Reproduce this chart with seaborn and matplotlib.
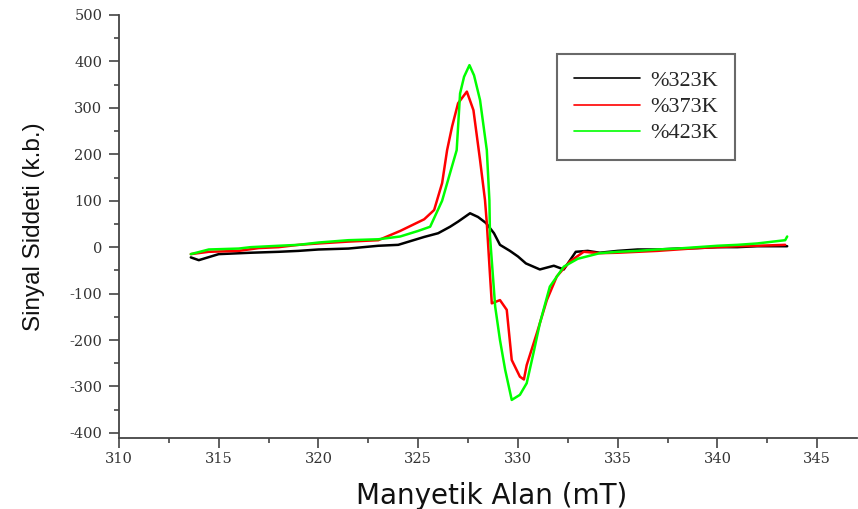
import matplotlib
matplotlib.use("Agg")
import matplotlib.pyplot as plt
import matplotlib.ticker as mticker
import seaborn as sns
import pandas as pd

# ---- data ----
labels = ["%323K", "%373K", "%423K"]
colors = ["#000000", "#ff0000", "#00ff00"]

x_323 = [313.6, 314.0, 315.0, 316.6, 318.0, 319.0, 320.0, 321.5, 323.0, 324.0, 325.3,
         326.0, 326.6, 327.0, 327.6, 328.0, 328.4, 328.8, 329.1, 329.6, 330.0, 330.4,
         331.1, 331.8, 332.3, 332.9, 333.5, 334.1, 335.0, 336.0, 337.0, 338.0, 339.0,
         340.0, 341.0, 342.0, 343.5]
y_323 = [-22, -28, -15, -12, -10, -8, -5, -3, 3, 5, 22,
         30, 44, 55, 73, 65, 52, 30, 5, -8, -20, -35,
         -48, -40, -48, -10, -8, -12, -8, -5, -5, -3, -2,
         0, 0, 2, 2]

x_373 = [313.6, 314.5, 316.0, 317.0, 318.0, 319.0, 320.0, 321.5, 323.0, 324.1, 325.3,
         325.8, 326.2, 326.45, 326.7, 327.0, 327.44, 327.77, 328.1, 328.35, 328.44, 328.6,
         328.69, 329.1, 329.44, 329.69, 330.1, 330.3, 330.44, 330.95, 331.45, 331.95,
         332.6, 333.3, 334.1, 335.0, 336.0, 337.0, 338.0, 339.0, 340.0, 341.0, 342.0, 343.4]
y_373 = [-15, -10, -8, -2, 0, 5, 8, 12, 15, 35, 60,
         80, 138, 209, 260, 310, 335, 295, 188, 101, 52, -60,
         -121, -114, -135, -243, -279, -285, -254, -185, -114, -63,
         -31, -10, -13, -12, -10, -8, -5, -2, 0, 2, 3, 5]

x_423 = [313.6, 314.5, 316.0, 316.6, 318.0, 319.0, 320.0, 321.5, 323.0, 324.1, 325.0,
         325.6, 326.2, 326.6, 326.93, 327.1, 327.3, 327.57, 327.8, 328.1, 328.44, 328.57,
         328.6, 328.86, 329.1, 329.36, 329.69, 330.1, 330.44, 330.78, 331.1, 331.6,
         332.3, 333.0, 334.1, 335.0, 336.0, 337.0, 338.0, 339.0, 340.0, 341.0, 342.0,
         343.4, 343.5]
y_423 = [-15, -5, -3, 0, 3, 5, 10, 15, 17, 23, 35,
         44, 100, 160, 209, 331, 367, 392, 370, 317, 209, 101,
         23, -128, -200, -264, -329, -318, -293, -228, -164, -85,
         -42, -25, -13, -10, -8, -5, -3, 0, 3, 5, 8,
         15, 23]

xs = [x_323, x_373, x_423]
ys = [y_323, y_373, y_423]

df = pd.concat(
    [pd.DataFrame({"x": x, "y": y, "series": lab}) for x, y, lab in zip(xs, ys, labels)],
    ignore_index=True,
)

# ---- figure ----
sns.set_style("white")
plt.rcParams["axes.unicode_minus"] = False
fig = plt.figure(figsize=(8.58, 5.09), dpi=100)
ax = fig.add_axes([119 / 858, 1 - 438 / 509, (857 - 119) / 858, (438 - 15) / 509])

sns.lineplot(data=df, x="x", y="y", hue="series", palette=dict(zip(labels, colors)),
             sort=False, estimator=None, linewidth=1.8, ax=ax)

ax.set_xlim(310, 347.0)
ax.set_ylim(-411, 500)
ax.xaxis.set_major_locator(mticker.MultipleLocator(5))
ax.xaxis.set_minor_locator(mticker.MultipleLocator(2.5))
ax.yaxis.set_major_locator(mticker.MultipleLocator(100))
ax.yaxis.set_minor_locator(mticker.MultipleLocator(50))

for s in ["top", "right"]:
    ax.spines[s].set_visible(False)
for s in ["left", "bottom"]:
    ax.spines[s].set_color("#444444")
    ax.spines[s].set_linewidth(1.3)

ax.tick_params(axis="both", which="both", bottom=True, left=True, top=False, right=False)
ax.tick_params(axis="both", which="major", direction="out", length=7, width=1.2,
               color="#444444", labelcolor="#333333", labelsize=10.5, pad=3)
ax.tick_params(axis="both", which="minor", direction="out", length=3.5, width=1.2,
               color="#444444")
ax.tick_params(axis="y", which="major", pad=5)
for lab in ax.get_xticklabels() + ax.get_yticklabels():
    lab.set_family("DejaVu Serif")

ax.set_xlabel("Manyetik Alan (mT)", fontsize=20, family="DejaVu Sans", color="#111111")
ax.set_ylabel("Sinyal Siddeti (k.b.)", fontsize=17.5, family="Liberation Sans",
              color="#111111")
ax.xaxis.set_label_coords(0.505, -0.105)
ax.yaxis.set_label_coords(-0.100, 0.50)

handles, hl = ax.get_legend_handles_labels()
for h in handles:
    h.set_linewidth(1.2)
leg = ax.legend(handles, hl, loc="upper left",
                bbox_to_anchor=((557 - 119) / 738, 1 - (54 - 15) / 423),
                frameon=True, fancybox=False, prop={"family": "Liberation Serif", "size": 16},
                handlelength=3.0, handletextpad=0.45, labelspacing=0.25, borderpad=0.75,
                borderaxespad=0)
leg.get_frame().set_edgecolor("#444444")
leg.get_frame().set_linewidth(1.5)

fig.savefig("out.png", dpi=100)
